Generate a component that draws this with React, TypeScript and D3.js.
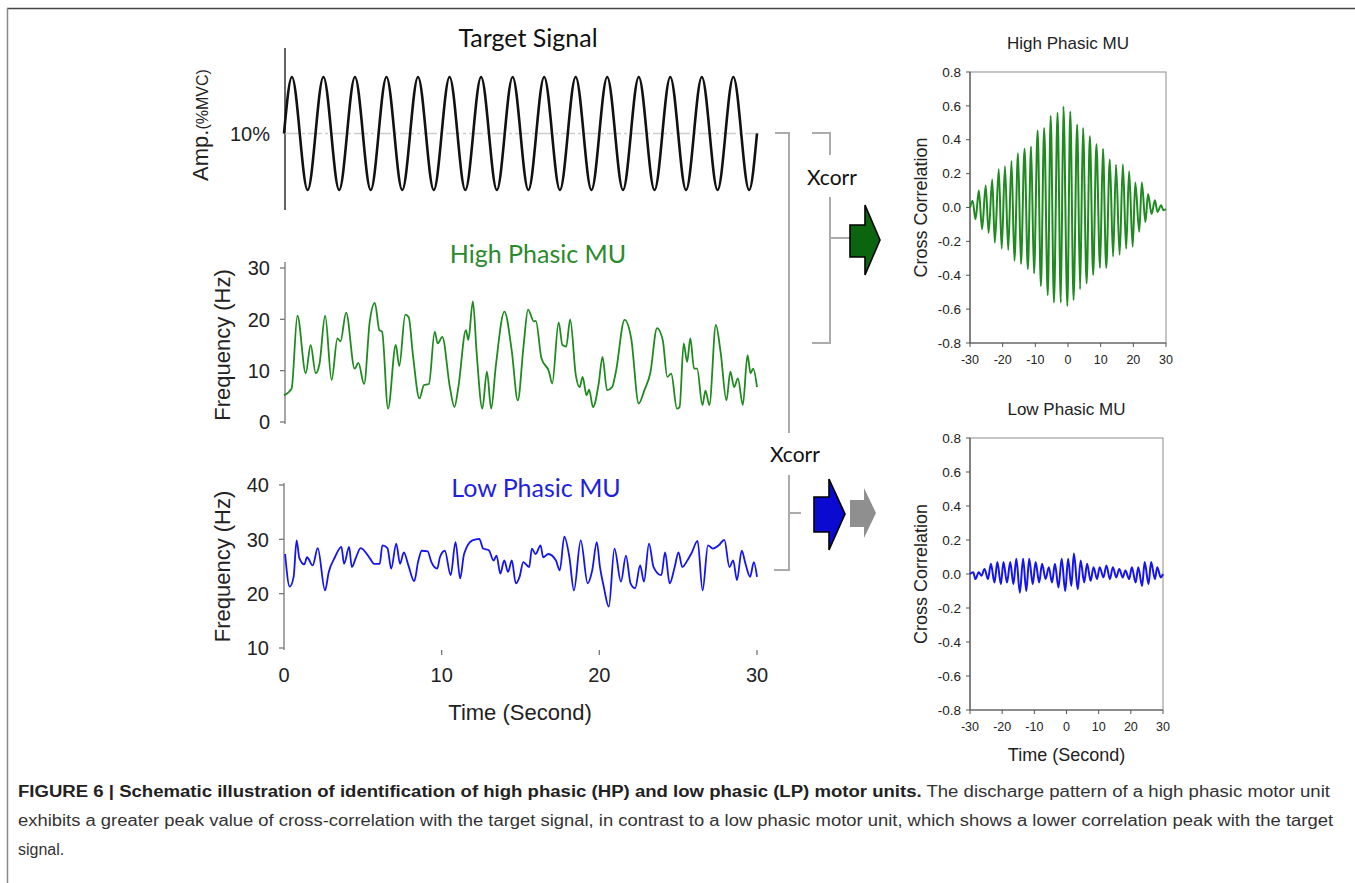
import React from 'react'
import * as d3 from 'd3'

const WIDTH = 1355
const HEIGHT = 883
const SANS = '"Liberation Sans", Arial, Helvetica, sans-serif'
const CALIBRI = 'Lato, "Open Sans", sans-serif'

type Pt = [number, number]

// target sine: extrema only (time s, %MVC)
const targetSignal: Pt[] = [
  [0, 10], [0.5, 15], [1.5, 5], [2.5, 15], [3.5, 5], [4.5, 15], [5.5, 5], [6.5, 15], [7.5, 5],
  [8.5, 15], [9.5, 5], [10.5, 15], [11.5, 5], [12.5, 15], [13.5, 5], [14.5, 15], [15.5, 5],
  [16.5, 15], [17.5, 5], [18.5, 15], [19.5, 5], [20.5, 15], [21.5, 5], [22.5, 15], [23.5, 5],
  [24.5, 15], [25.5, 5], [26.5, 15], [27.5, 5], [28.5, 15], [29.5, 5], [30, 10],
]

// high phasic MU discharge rate (s, Hz)
const highPhasicRate: Pt[] = [
  [0, 5.2], [0.48, 6.5], [0.85, 20.7], [1.38, 9.5], [1.69, 15], [2.01, 9.5], [2.25, 11.3],
  [2.61, 20.7], [3.02, 8.2], [3.39, 16.3], [3.58, 15.7], [3.94, 21.3], [4.48, 10.4], [4.72, 11.5],
  [5.08, 7.4], [5.44, 19.6], [5.76, 23.2], [6.05, 17.9], [6.22, 17.6], [6.6, 2.6], [7.09, 15],
  [7.31, 10.9], [7.69, 20.9], [7.91, 20.4], [8.18, 13], [8.59, 4.6], [8.88, 7.2], [9.19, 7.4],
  [9.56, 17.6], [9.75, 15.3], [10.04, 16.6], [10.52, 6.8], [10.81, 2.9], [11.06, 6.8],
  [11.54, 17.9], [11.69, 16], [11.98, 23.5], [12.22, 13.4], [12.58, 2.6], [12.87, 9.8],
  [13.14, 2.6], [13.43, 10.8], [13.98, 21.5], [14.44, 14], [14.83, 4.2], [15.19, 14.7],
  [15.48, 21.9], [15.85, 19.6], [15.97, 19.7], [16.33, 12.4], [16.81, 9.8], [17.01, 7.5],
  [17.42, 19.4], [17.66, 15], [17.9, 14.7], [18.15, 20], [18.51, 9.1], [18.75, 6.8],
  [18.94, 8.8], [19.19, 5.2], [19.35, 6.3], [19.6, 2.9], [19.96, 7.5], [20.2, 12.7],
  [20.49, 6.2], [20.81, 6.8], [21.05, 9.8], [21.6, 19.9], [22.02, 16.3], [22.5, 3.6],
  [22.86, 6.2], [23.23, 9.5], [23.66, 18.3], [24.02, 16], [24.31, 8.8], [24.56, 9.4],
  [24.92, 2.6], [25.09, 2.9], [25.35, 15.3], [25.57, 11.7], [25.77, 16.3], [26.01, 10.4],
  [26.2, 10.4], [26.54, 3.3], [26.73, 6.1], [26.98, 3.3], [27.39, 18.9], [27.7, 13.4],
  [28.06, 4.2], [28.31, 9.8], [28.55, 6.8], [28.79, 8.5], [29.1, 3.3], [29.4, 13],
  [29.59, 9.5], [29.76, 10.4], [30, 6.8],
]

// low phasic MU discharge rate (s, Hz)
const lowPhasicRate: Pt[] = [
  [0.07, 27.3], [0.36, 21.3], [0.61, 23.1], [0.8, 29.8], [0.97, 26.6], [1.29, 25.4],
  [1.46, 26.7], [1.82, 25.2], [2.14, 28.4], [2.6, 20.6], [2.84, 24], [3.23, 26.7],
  [3.64, 28.6], [3.81, 25.5], [4.13, 28.6], [4.3, 24.9], [4.57, 26.7], [4.86, 28.4],
  [5.47, 26.4], [5.71, 25.5], [6.07, 25.5], [6.24, 28.9], [6.56, 28.4], [6.8, 24.6],
  [7.12, 29.2], [7.36, 25.5], [7.6, 27.6], [7.89, 25.2], [8.26, 22.3], [8.5, 25.8],
  [8.74, 27.9], [9.11, 27.8], [9.35, 25.8], [9.72, 24.6], [9.89, 26.7], [10.2, 27.9],
  [10.57, 23.4], [10.88, 29.5], [11.17, 22.8], [11.42, 27.3], [11.95, 29.8], [12.39, 30.1],
  [12.63, 28.3], [12.99, 28], [13.29, 26.1], [13.48, 27], [13.72, 23.7], [13.97, 26.1],
  [14.21, 24], [14.45, 26.1], [14.7, 21.9], [14.94, 23.1], [15.18, 25.8], [15.55, 24.9],
  [15.72, 28.3], [15.96, 27.3], [16.27, 28.9], [16.44, 26.7], [16.76, 27.3], [17.25, 26.1],
  [17.49, 24.3], [17.78, 30.5], [18.1, 26.7], [18.39, 20.6], [18.82, 29.8], [19.26, 21.9],
  [19.55, 24.3], [19.84, 29.5], [20.04, 24.9], [20.28, 21.3], [20.6, 17.6], [20.96, 28.3],
  [21.37, 22.2], [21.69, 27], [21.98, 21.9], [22.27, 21], [22.59, 25.2], [22.83, 22.2],
  [23.15, 29.2], [23.44, 24.9], [23.93, 23.4], [24.17, 27.6], [24.46, 21.9], [24.78, 24.9],
  [25.02, 27.6], [25.26, 24.9], [25.58, 26.1], [25.87, 27.6], [26.23, 29.7], [26.55, 20.6],
  [26.89, 28.9], [27.2, 28.3], [27.57, 28.9], [27.93, 29.9], [28.25, 24.9], [28.49, 26.1],
  [28.73, 22.5], [29.03, 27.9], [29.27, 25.5], [29.56, 23.1], [29.8, 25.8], [30, 23.1],
]

// cross-correlation with target (lag s, r)
const xcorrHigh: Pt[] = [
  [-30, 0], [-29.2, 0.04], [-28.3, -0.07], [-27.3, 0.1], [-26.3, -0.128], [-25.2, 0.13],
  [-24.3, -0.15], [-23.2, 0.165], [-22.4, -0.208], [-21.2, 0.226], [-20.3, -0.243],
  [-19.3, 0.243], [-18.3, -0.251], [-17.3, 0.275], [-16.4, -0.314], [-15.3, 0.32],
  [-14.4, -0.334], [-13.3, 0.347], [-12.3, -0.363], [-11.3, 0.36], [-10.4, -0.389],
  [-9.3, 0.455], [-8.3, -0.463], [-7.3, 0.47], [-6.2, -0.518], [-5.3, 0.54], [-4.3, -0.561],
  [-3.2, 0.56], [-2.2, -0.561], [-1.4, 0.597], [-0.2, -0.581], [0.7, 0.567], [1.7, -0.546],
  [2.8, 0.49], [3.7, -0.483], [4.6, 0.47], [5.7, -0.448], [6.7, 0.42], [7.7, -0.398],
  [8.7, 0.373], [9.8, -0.357], [10.7, 0.347], [11.7, -0.357], [12.8, 0.283], [13.8, -0.29],
  [14.7, 0.253], [15.8, -0.279], [16.8, 0.255], [17.8, -0.243], [18.7, 0.214], [19.8, -0.232],
  [20.6, 0.147], [21.8, -0.143], [22.6, 0.147], [23.7, -0.086], [24.5, 0.079], [25.6, -0.039],
  [26.6, 0.043], [27.4, -0.026], [28.5, 0.014], [29.2, -0.016], [30, -0.01],
]

const xcorrLow: Pt[] = [
  [-30, 0], [-29, 0.01], [-28.3, -0.03], [-27.3, 0.01], [-26.4, -0.01], [-25.5, 0.03],
  [-24.4, -0.03], [-23.5, 0.06], [-22.4, -0.05], [-21.5, 0.07], [-20.4, -0.06], [-19.6, 0.07],
  [-18.5, -0.05], [-17.5, 0.07], [-16.5, -0.06], [-15.6, 0.09], [-14.5, -0.11], [-13.5, 0.09],
  [-12.5, -0.1], [-11.6, 0.09], [-10.5, -0.06], [-9.6, 0.07], [-8.5, -0.05], [-7.6, 0.06],
  [-6.5, -0.03], [-5.5, 0.04], [-4.5, -0.05], [-3.6, 0.06], [-2.5, -0.08], [-1.5, 0.09],
  [-0.4, -0.1], [0.5, 0.09], [1.5, -0.07], [2.3, 0.12], [3.5, -0.09], [4.4, 0.08],
  [5.5, -0.05], [6.4, 0.06], [7.5, -0.04], [8.4, 0.04], [9.5, -0.03], [10.3, 0.04],
  [11.5, -0.02], [12.4, 0.05], [13.5, -0.03], [14.4, 0.04], [15.5, -0.02], [16.4, 0.03],
  [17.5, -0.02], [18.3, 0.02], [19.5, -0.03], [20.3, 0.04], [21.5, -0.05], [22.3, 0.04],
  [23.5, -0.07], [24.3, 0.07], [25.5, -0.06], [26.3, 0.07], [27.5, -0.03], [28.2, 0.04],
  [29.3, -0.02], [30, 0],
]

const hpFreqTicks = [0, 10, 20, 30]
const lpFreqTicks = [10, 20, 30, 40]
const timeTicks = [0, 10, 20, 30]
const corrTicks = [-0.8, -0.6, -0.4, -0.2, 0, 0.2, 0.4, 0.6, 0.8]
const lagTicks = [-30, -20, -10, 0, 10, 20, 30]

const captionBold = 'FIGURE 6 | Schematic illustration of identification of high phasic (HP) and low phasic (LP) motor units.'
const captionLines = [
  ' The discharge pattern of a high phasic motor unit',
  'exhibits a greater peak value of cross-correlation with the target signal, in contrast to a low phasic motor unit, which shows a lower correlation peak with the target',
  'signal.',
]

function CorrPanel({ data, top, bottom, right, color, title, xLabel }: {
  data: Pt[], top: number, bottom: number, right: number, color: string, title: string, xLabel?: string
}) {
  const left = 970
  const x = d3.scaleLinear().domain([-30, 30]).range([left, right])
  const y = d3.scaleLinear().domain([-0.8, 0.8]).range([bottom, top])
  const line = d3.line<Pt>().x(d => x(d[0])).y(d => y(d[1])).curve(d3.curveMonotoneX)
  const mid = (top + bottom) / 2
  return (
    <g fontFamily={SANS} fill="#222">
      <text x={(left + right) / 2} y={top - 23} textAnchor="middle" fontSize={17}>{title}</text>
      <rect x={left} y={top} width={right - left} height={bottom - top} fill="none" stroke="#a0a0a0" strokeWidth={1.2} />
      <line x1={left} x2={left} y1={top} y2={bottom} stroke="#555" strokeWidth={1.2} />
      <line x1={left} x2={right} y1={bottom} y2={bottom} stroke="#555" strokeWidth={1.2} />
      {corrTicks.map(t => (
        <g key={t}>
          <line x1={left - 4} x2={left} y1={y(t)} y2={y(t)} stroke="#555" />
          <text x={left - 9} y={y(t)} dy="0.35em" textAnchor="end" fontSize={13.5}>{t.toFixed(1)}</text>
        </g>
      ))}
      {lagTicks.map(t => (
        <g key={t}>
          <line x1={x(t)} x2={x(t)} y1={bottom} y2={bottom + 4} stroke="#555" />
          <text x={x(t)} y={bottom + 21} textAnchor="middle" fontSize={12.5}>{t}</text>
        </g>
      ))}
      <text transform={`translate(${left - 43},${mid}) rotate(-90)`} textAnchor="middle" fontSize={18}>Cross Correlation</text>
      {xLabel && <text x={(left + right) / 2} y={bottom + 51} textAnchor="middle" fontSize={18}>{xLabel}</text>}
      <path d={line(data) ?? ''} fill="none" stroke={color} strokeWidth={2} />
    </g>
  )
}

export default function App() {
  const tX = d3.scaleLinear().domain([0, 30]).range([284, 757])
  const ampY = d3.scaleLinear().domain([5, 15]).range([190, 77])
  const hpY = d3.scaleLinear().domain([0, 30]).range([422, 268])
  const lpY = d3.scaleLinear().domain([10, 40]).range([648, 485])

  const lineOf = (yS: d3.ScaleLinear<number, number>) =>
    d3.line<Pt>().x(d => tX(d[0])).y(d => yS(d[1])).curve(d3.curveMonotoneX)

  const bracket = '#ababab'

  return (
    <svg width={WIDTH} height={HEIGHT} style={{ position: 'absolute', left: 0, top: 0, background: '#fff' }}>
      {/* frame */}
      <line x1={7} x2={WIDTH} y1={8.5} y2={8.5} stroke="#444" strokeWidth={1.5} />
      <line x1={7.5} x2={7.5} y1={8} y2={HEIGHT} stroke="#888" strokeWidth={1.5} />

      {/* target signal */}
      <text x={528} y={47} textAnchor="middle" fontFamily={CALIBRI} fontSize={25} fill="#111">Target Signal</text>
      <line x1={285} x2={285} y1={48} y2={210} stroke="#111" strokeWidth={1.3} />
      <line x1={285} x2={760} y1={ampY(10)} y2={ampY(10)} stroke="#cdcdcd" strokeWidth={1.6} strokeDasharray="14 3 3 3" />
      <text x={270} y={ampY(10)} dy="0.35em" textAnchor="end" fontFamily={SANS} fontSize={20} fill="#222">10%</text>
      <text transform="translate(208,125) rotate(-90)" textAnchor="middle" fontFamily={SANS} fill="#222">
        <tspan fontSize={22}>Amp.</tspan><tspan fontSize={16}>(%MVC)</tspan>
      </text>
      <path d={lineOf(ampY)(targetSignal) ?? ''} fill="none" stroke="#111" strokeWidth={2.6} />

      {/* high phasic MU */}
      <text x={538} y={263} textAnchor="middle" fontFamily={CALIBRI} fontSize={25} fill="#2b8a2b">High Phasic MU</text>
      <line x1={285} x2={285} y1={262} y2={hpY(0) + 2} stroke="#777" strokeWidth={1.3} />
      {hpFreqTicks.map(t => (
        <g key={t}>
          <line x1={280} x2={285} y1={hpY(t)} y2={hpY(t)} stroke="#777" strokeWidth={1.3} />
          <text x={270} y={hpY(t)} dy="0.36em" textAnchor="end" fontFamily={SANS} fontSize={20} fill="#222">{t}</text>
        </g>
      ))}
      <text transform={`translate(230,${hpY(15)}) rotate(-90)`} textAnchor="middle" fontFamily={SANS} fontSize={22} fill="#222">Frequency (Hz)</text>
      <path d={lineOf(hpY)(highPhasicRate) ?? ''} fill="none" stroke="#1f8a1f" strokeWidth={1.8} />

      {/* low phasic MU */}
      <text x={536} y={497} textAnchor="middle" fontFamily={CALIBRI} fontSize={25} fill="#1f1fe0">Low Phasic MU</text>
      <line x1={284} x2={284} y1={lpY(40) - 2} y2={lpY(10) + 2} stroke="#777" strokeWidth={1.3} />
      {lpFreqTicks.map(t => (
        <g key={t}>
          <line x1={279} x2={284} y1={lpY(t)} y2={lpY(t)} stroke="#777" strokeWidth={1.3} />
          <text x={269} y={lpY(t)} dy="0.36em" textAnchor="end" fontFamily={SANS} fontSize={20} fill="#222">{t}</text>
        </g>
      ))}
      {timeTicks.map(t => (
        <g key={t}>
          {t > 0 && <line x1={tX(t)} x2={tX(t)} y1={lpY(10) + 2} y2={lpY(10) + 7} stroke="#777" strokeWidth={1.3} />}
          <text x={tX(t)} y={682} textAnchor="middle" fontFamily={SANS} fontSize={20} fill="#222">{t}</text>
        </g>
      ))}
      <text x={520} y={720} textAnchor="middle" fontFamily={SANS} fontSize={22} fill="#222">Time (Second)</text>
      <text transform={`translate(230,${lpY(25)}) rotate(-90)`} textAnchor="middle" fontFamily={SANS} fontSize={22} fill="#222">Frequency (Hz)</text>
      <path d={lineOf(lpY)(lowPhasicRate) ?? ''} fill="none" stroke="#1414f0" strokeWidth={1.8} />

      {/* brackets and arrows */}
      <g fill="none" stroke={bracket} strokeWidth={2}>
        <path d="M775,133 H789 V433" />
        <path d="M789,475 V570 H774" />
        <path d="M789,513 H801" />
        <path d="M812,133 H830 V155" />
        <path d="M830,197 V343 H812" />
        <path d="M830,238 H850" />
      </g>
      <text x={832} y={185} textAnchor="middle" fontFamily={CALIBRI} fontSize={21} fill="#111">Xcorr</text>
      <text x={795} y={462} textAnchor="middle" fontFamily={CALIBRI} fontSize={21} fill="#111">Xcorr</text>
      <polygon points="850,225 865,225 865,205 880,240 865,275 865,257 850,257" fill="#0b650f" stroke="#000" strokeWidth={1.6} strokeLinejoin="miter" />
      <polygon points="814,497 829,497 829,479 845,514 829,550 829,532 814,532" fill="#0a0ad0" stroke="#000" strokeWidth={1.6} />
      <polygon points="850,500 864,500 864,488 876,513 864,538 864,527 850,527" fill="#8f8f8f" />

      {/* cross-correlation panels */}
      <CorrPanel data={xcorrHigh} top={72} bottom={343} right={1166} color="#1f8a1f" title="High Phasic MU" />
      <CorrPanel data={xcorrLow} top={438} bottom={710} right={1163} color="#1414f0" title="Low Phasic MU" xLabel="Time (Second)" />

      {/* caption */}
      <text x={18} y={797} fontFamily={SANS} fontSize={16} fill="#333" textLength={1312} lengthAdjust="spacingAndGlyphs">
        <tspan fontWeight="bold" fill="#222">{captionBold}</tspan>{captionLines[0]}
      </text>
      <text x={18} y={826} fontFamily={SANS} fontSize={16} fill="#333" textLength={1315} lengthAdjust="spacingAndGlyphs">{captionLines[1]}</text>
      <text x={18} y={855} fontFamily={SANS} fontSize={16} fill="#333">{captionLines[2]}</text>
    </svg>
  )
}
